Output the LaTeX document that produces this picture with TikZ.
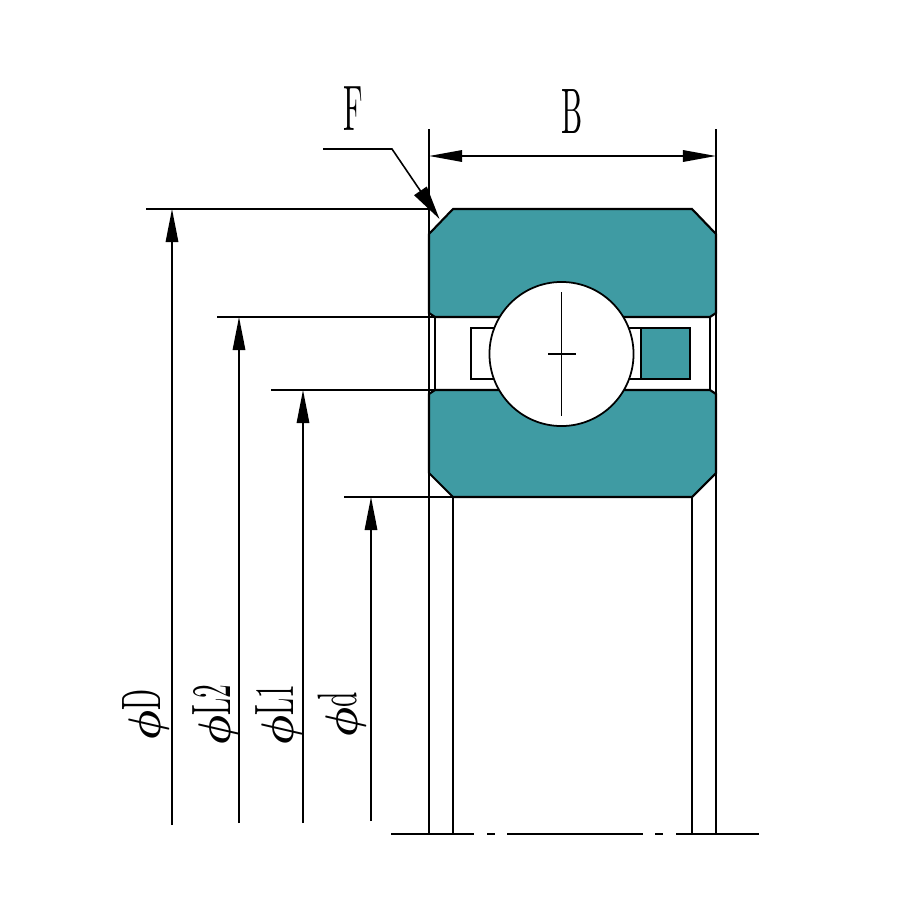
\documentclass[tikz,border=0pt]{standalone}
\usetikzlibrary{arrows.meta}
\definecolor{ringteal}{HTML}{3F9BA3}
\tikzset{
  part/.style={draw=black,line width=0.6pt,line join=miter},
  ringpart/.style={part,fill=ringteal},
  thin line/.style={draw=black,line width=0.45pt},
  dimarrow/.style={thin line,-{Triangle[length=0.33cm,width=0.125cm]}},
  leaderarrow/.style={thin line,-{Triangle[length=0.34cm,width=0.15cm]}},
  dimboth/.style={thin line,{Triangle[length=0.33cm,width=0.115cm]}-{Triangle[length=0.33cm,width=0.115cm]}},
  lab/.style={inner sep=0pt},
  vlab/.style={inner sep=0pt,rotate=90}
}
\newcommand{\narrow}[1]{\scalebox{0.85}[1.83]{#1}}
\newcommand{\dimtext}[1]{\scalebox{0.78}[1.58]{#1}}
\newcommand{\diasign}{\raisebox{-0.1pt}{\scalebox{1.2}[1.3]{\boldmath$\phi$}}}
\begin{document}
\begin{tikzpicture}[x=0.01cm,y=-0.01cm]
\useasboundingbox (0,0) rectangle (900,900);
% reference lines
\coordinate (A) at (429,129);
\coordinate (Ab) at (429,834);
\coordinate (Bt) at (716,129);
\coordinate (Bb) at (716,834);
\draw[thin line] (A) -- (Ab);
\draw[thin line] (Bt) -- (Bb);
\draw[thin line] (453,497) -- (453,834);
\draw[thin line] (692,497) -- (692,834);
% races
\draw[ringpart] (429,234) -- (453,209) -- (692,209) -- (716,234) -- (716,313) -- (710,317) -- (435,317) -- (429,313) -- cycle;
\draw[ringpart] (429,394) -- (435,390) -- (710,390) -- (716,394) -- (716,473) -- (692,497) -- (453,497) -- (429,473) -- cycle;
\draw[thin line] (435,317) -- (435,390);
\draw[thin line] (710,317) -- (710,390);
% cage
\draw[part,fill=white] (471,328) rectangle (641,379);
\draw[part,fill=ringteal] (641,328) rectangle (690,379);
% ball
\node[circle,draw=black,fill=white,line width=0.5pt,minimum size=1.44cm,inner sep=0pt] (ball) at (561.5,354) {};
\draw[thin line] (561.5,292) -- (561.5,416);
\draw[thin line] (548,354) -- (576,354);
% centre line
\draw[part] (391,834) -- (474,834);
\draw[part] (487,834) -- (495,834);
\draw[part] (507,834) -- (643,834);
\draw[part] (655,834) -- (663,834);
\draw[part] (676,834) -- (759,834);
% width dimension
\draw[dimboth] (429,156) -- (716,156);
\node[lab] (labB) at (572,112) {\narrow{B}};
% chamfer leader
\draw[leaderarrow] (323,149) -- (392,149) -- (439.5,219);
\node[lab] (labF) at (353,109) {\narrow{F}};
% diameter dimensions
\draw[thin line] (146,209) -- (429,209);
\draw[thin line] (217,317) -- (435,317);
\draw[thin line] (271,390) -- (435,390);
\draw[thin line] (344,497) -- (453,497);
\draw[dimarrow] (172,825) -- (172,209);
\draw[dimarrow] (239,823) -- (239,317);
\draw[dimarrow] (303,823) -- (303,390);
\draw[dimarrow] (371,821) -- (371,497);
\node[vlab] (labD) at (146,715) {\diasign\dimtext{D}};
\node[vlab] (labL2) at (216,715) {\diasign\dimtext{L2}};
\node[vlab] (labL1) at (279,715) {\diasign\dimtext{L1}};
\node[vlab] (labd) at (342,715) {\diasign\dimtext{d}};
\end{tikzpicture}
\end{document}
